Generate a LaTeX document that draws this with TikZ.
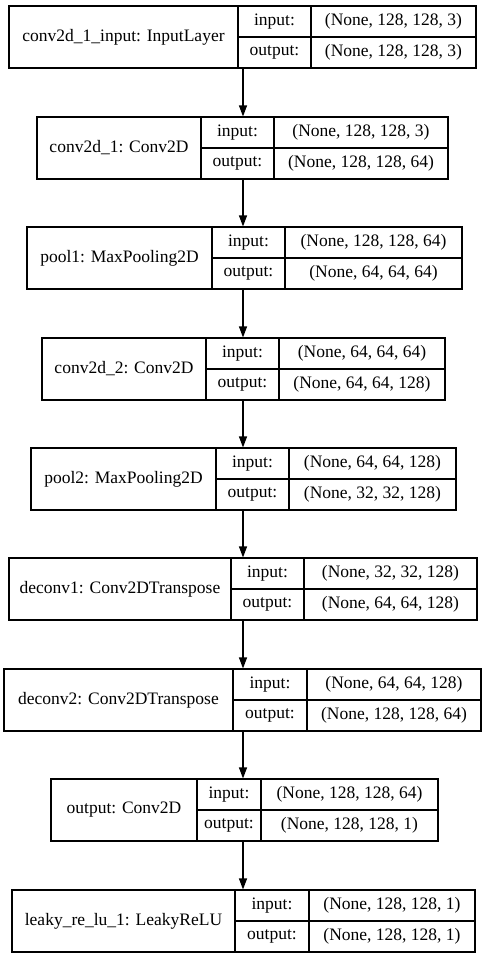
\documentclass[tikz,border=0pt]{standalone}
\usepackage{fontspec}
\setmainfont{Liberation Serif}
\usetikzlibrary{arrows.meta}
% One layer record: #1 name, #2 top, #3 left, #4 first divider, #5 second divider,
% #6 right, #7 layer label, #8 input shape, #9 output shape
\newcommand\kerasrow[9]{%
  \node[layerbox, minimum width={(#6-#3)*1pt}] (#1) at ({(#3+#6)/2},{#2+31}) {};
  \draw (#4,#2) -- (#4,{#2+62});
  \draw (#5,#2) -- (#5,{#2+62});
  \draw (#4,{#2+31}) -- (#6,{#2+31});
  \node[txt] (#1-label) at ({(#3+#4)/2},{#2+31}) {#7};
  \node[txt] (#1-inkey) at ({(#4+#5)/2},{#2+15.5}) {input:};
  \node[txt] (#1-outkey) at ({(#4+#5)/2},{#2+46.5}) {output:};
  \node[txt] (#1-inval) at ({(#5+#6)/2},{#2+15.5}) {#8};
  \node[txt] (#1-outval) at ({(#5+#6)/2},{#2+46.5}) {#9};
}
\begin{document}
\begin{tikzpicture}[x=1pt,y=-1pt,line width=1.1pt,
  layerbox/.style={draw, inner sep=0pt, minimum height=62pt},
  txt/.style={font=\rmfamily\fontsize{17.5}{20}\selectfont, inner sep=0pt},
  flow/.style={-{Triangle[length=11pt,width=8pt]}}]
\useasboundingbox (0,0) rectangle (487,959);
\coordinate (axis) at (243,0);

\kerasrow{l1}{6}{9}{238}{311}{476}{conv2d\_1\_input: InputLayer}{(None, 128, 128, 3)}{(None, 128, 128, 3)}
\kerasrow{l2}{117}{37}{201}{274}{448}{conv2d\_1: Conv2D}{(None, 128, 128, 3)}{(None, 128, 128, 64)}
\kerasrow{l3}{227}{27}{212}{285}{462}{pool1: MaxPooling2D}{(None, 128, 128, 64)}{(None, 64, 64, 64)}
\kerasrow{l4}{338}{42}{206}{279}{445}{conv2d\_2: Conv2D}{(None, 64, 64, 64)}{(None, 64, 64, 128)}
\kerasrow{l5}{448}{31}{216}{289}{456}{pool2: MaxPooling2D}{(None, 64, 64, 128)}{(None, 32, 32, 128)}
\kerasrow{l6}{558}{9}{231}{304}{477}{deconv1: Conv2DTranspose}{(None, 32, 32, 128)}{(None, 64, 64, 128)}
\kerasrow{l7}{669}{4}{233}{307}{481}{deconv2: Conv2DTranspose}{(None, 64, 64, 128)}{(None, 128, 128, 64)}
\kerasrow{l8}{779}{51}{197}{261}{438}{output: Conv2D}{(None, 128, 128, 64)}{(None, 128, 128, 1)}
\kerasrow{l9}{890}{12}{235}{309}{475}{leaky\_re\_lu\_1: LeakyReLU}{(None, 128, 128, 1)}{(None, 128, 128, 1)}

\foreach \a/\b in {l1/l2,l2/l3,l3/l4,l4/l5,l5/l6,l6/l7,l7/l8,l8/l9}
  \draw[flow] (\a.south -| axis) -- (\b.north -| axis);
\end{tikzpicture}
\end{document}
